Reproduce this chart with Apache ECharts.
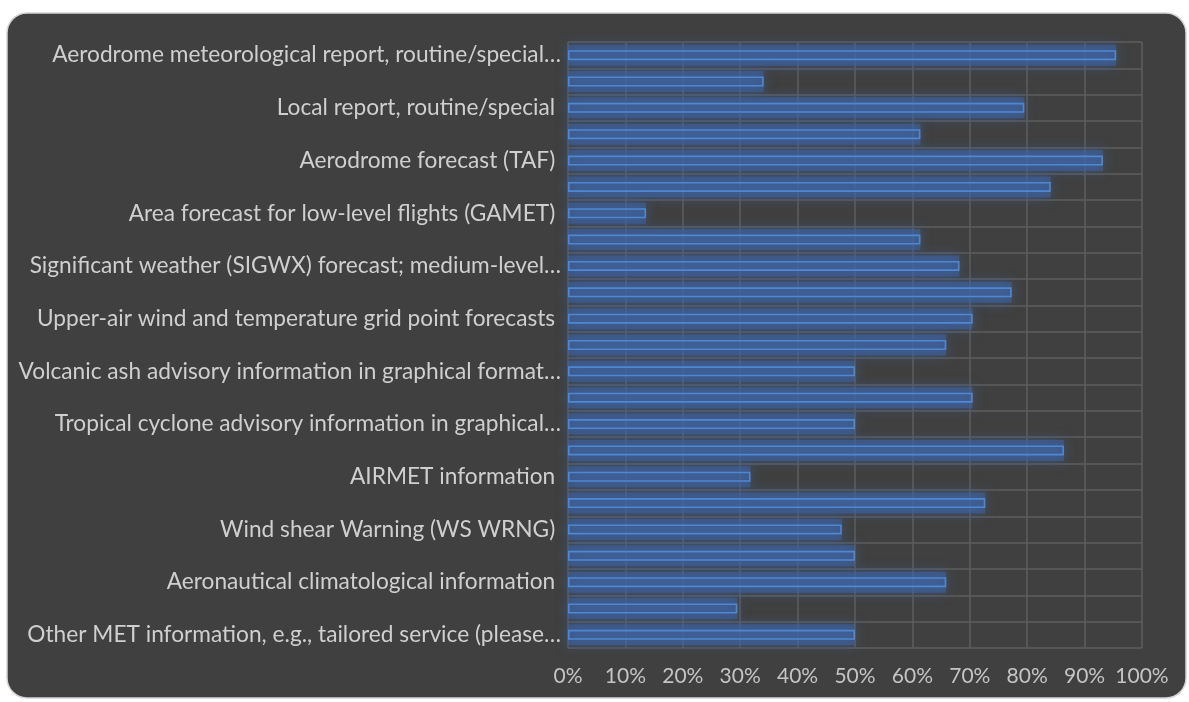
<!DOCTYPE html>
<html>
<head>
<meta charset="utf-8">
<script src="https://cdn.jsdelivr.net/npm/echarts@6/dist/echarts.min.js"></script>
<style>
html,body{margin:0;padding:0;background:#ffffff;}
#chart{width:1189px;height:702px;}
</style>
</head>
<body>
<div id="chart"></div>
<script>
// Categories, top to bottom (every other label is hidden in the original chart)
const categories = [
  "Aerodrome meteorological report, routine/special…",
  "Trend forecast",
  "Local report, routine/special ",
  "Take-off forecast",
  "Aerodrome forecast (TAF) ",
  "Aerodrome warnings",
  "Area forecast for low-level flights (GAMET) ",
  "Significant weather (SIGWX) forecast; high-level",
  "Significant weather (SIGWX) forecast; medium-level…",
  "SIGMET information",
  "Upper-air wind and temperature grid point forecasts ",
  "Volcanic ash advisory information in text format",
  "Volcanic ash advisory information in graphical format…",
  "Tropical cyclone advisory information in text format",
  "Tropical cyclone advisory information in graphical…",
  "Space weather advisory information",
  "AIRMET information ",
  "Low-level SIGWX forecast",
  "Wind shear Warning (WS WRNG) ",
  "Wind shear alerts",
  "Aeronautical climatological information ",
  "Flight documentation",
  "Other MET information, e.g., tailored service (please…"
];
// Percent values
const values = [95.5, 34.1, 79.5, 61.4, 93.2, 84.1, 13.6, 61.4, 68.2, 77.3, 70.5, 65.9,
                50, 70.5, 50, 86.4, 31.8, 72.7, 47.7, 50, 65.9, 29.5, 50];
const xTicks = [0, 10, 20, 30, 40, 50, 60, 70, 80, 90, 100];

const chart = echarts.init(document.getElementById('chart'), null, {renderer: 'canvas'});
const font = 'Lato, "Open Sans", sans-serif';
chart.setOption({
  backgroundColor: 'transparent',
  animation: false,
  graphic: [{
    type: 'rect', z: -10, silent: true,
    shape: {x: 7, y: 13, width: 1179, height: 685, r: 20},
    style: {fill: '#404040', stroke: '#d4d4d4', lineWidth: 1.5}
  }],
  grid: {left: 568, right: 47, top: 42, bottom: 54, containLabel: false},
  xAxis: {
    type: 'value', min: xTicks[0], max: xTicks[xTicks.length - 1], interval: 10,
    axisLine: {show: false}, axisTick: {show: false},
    splitLine: {show: true, lineStyle: {color: '#5e5e5e', width: 1.5}},
    axisLabel: {color: '#c4c4c4', fontFamily: font, fontSize: 21, margin: 18,
      formatter: v => v + '%'}
  },
  yAxis: [{
    type: 'category', data: categories, inverse: true,
    axisLine: {show: false}, axisTick: {show: false},
    splitLine: {show: true, interval: 0, lineStyle: {color: '#5e5e5e', width: 1.5}},
    axisLabel: {interval: 1, color: '#cfcfcf', fontFamily: font, fontSize: 22.7, margin: 7}
  }, {
    // hidden twin axis so the glow is centred on each bar
    type: 'category', data: categories, inverse: true, show: false
  }],
  series: [{
    // soft glow under each bar
    type: 'bar', data: values, yAxisIndex: 1, barWidth: 21, silent: true, z: 1, clip: false,
    itemStyle: {
      color: 'rgba(62,100,165,0.55)',
      shadowColor: 'rgba(62,100,165,1)', shadowBlur: 12
    }
  }, {
    type: 'bar', data: values, yAxisIndex: 0, barWidth: 10, z: 3,
    itemStyle: {
      color: 'rgba(70,120,200,0.10)',
      borderColor: '#4f88d2', borderWidth: 1.6
    }
  }]
});
</script>
</body>
</html>
